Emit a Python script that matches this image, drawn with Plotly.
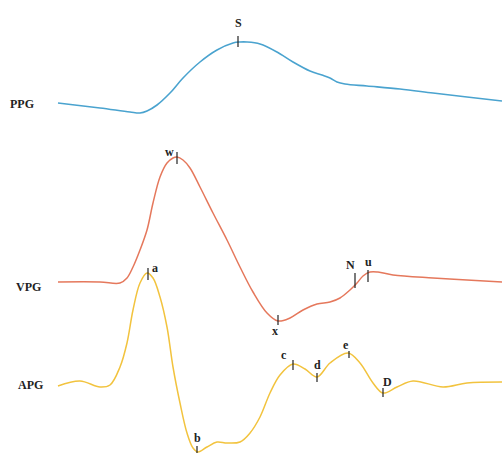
import plotly.graph_objects as go

# PPG curve (x, y in image-space units; y grows downward)
ppg_x = [58, 100, 130, 140, 147, 157, 170, 183, 200, 217, 233, 240, 247, 260, 277, 293, 310, 322, 330, 337, 345, 367, 400, 433, 467, 502]
ppg_y = [103, 108, 112, 113, 111, 105, 93, 78, 62, 50, 43, 42, 42, 44, 52, 62, 71, 75, 78, 82, 84, 86, 89, 93, 97, 101]

# VPG curve
vpg_x = [58, 100, 120, 127, 133, 140, 147, 153, 160, 167, 173, 177, 183, 190, 200, 213, 227, 240, 253, 267, 278, 290, 303, 317, 330, 340, 350, 357, 363, 370, 378, 393, 433, 467, 502]
vpg_y = [282, 282, 283, 278, 267, 250, 230, 203, 177, 163, 158, 157, 160, 168, 187, 213, 240, 267, 292, 313, 321, 318, 310, 304, 302, 298, 290, 283, 276, 272, 272, 275, 278, 280, 282]

# APG curve
apg_x = [58, 80, 100, 110, 120, 127, 133, 140, 147, 153, 160, 167, 173, 180, 187, 193, 198, 207, 217, 227, 240, 250, 260, 270, 280, 293, 305, 317, 330, 348, 360, 373, 383, 397, 413, 443, 467, 502]
apg_y = [386, 381, 387, 385, 367, 343, 310, 283, 273, 278, 297, 327, 367, 403, 433, 448, 452, 447, 442, 443, 442, 433, 417, 393, 375, 364, 369, 377, 363, 353, 363, 383, 393, 387, 381, 387, 383, 382]

# Fiducial markers: label, tick x, tick top, tick bottom, label x, label y
marks = [
    ("S", 238, 36, 47, 238, 23),
    ("w", 177, 152, 164, 169, 152),
    ("N", 355, 273, 288, 350, 265),
    ("u", 368, 270, 282, 368, 262),
    ("x", 278, 315, 325, 275, 331),
    ("a", 148, 268, 280, 155, 268),
    ("b", 197, 446, 453, 197, 438),
    ("c", 293, 360, 370, 284, 355),
    ("d", 317, 373, 382, 317, 365),
    ("e", 349, 351, 358, 346, 345),
    ("D", 383, 388, 397, 387, 382),
]

row_labels = ["PPG", "VPG", "APG"]
row_label_x = [22, 28, 30]
row_label_y = [104, 287, 385]

fig = go.Figure()
fig.add_trace(go.Scatter(x=ppg_x, y=ppg_y, mode="lines",
                         line=dict(color="#4aa3cf", width=1.6, shape="spline", smoothing=1.0)))
fig.add_trace(go.Scatter(x=vpg_x, y=vpg_y, mode="lines",
                         line=dict(color="#e5785c", width=1.5, shape="spline", smoothing=1.0)))
fig.add_trace(go.Scatter(x=apg_x, y=apg_y, mode="lines",
                         line=dict(color="#f2c33e", width=1.5, shape="spline", smoothing=1.0)))

for lab, tx, t0, t1, lx, ly in marks:
    fig.add_shape(type="line", x0=tx, x1=tx, y0=t0, y1=t1,
                  line=dict(color="#222222", width=1.2))
    fig.add_annotation(x=lx, y=ly, text="<b>" + lab + "</b>", showarrow=False,
                       font=dict(family="Liberation Serif", size=12, color="#222222"))

for lab, lx, ly in zip(row_labels, row_label_x, row_label_y):
    fig.add_annotation(x=lx, y=ly, text="<b>" + lab + "</b>", showarrow=False,
                       font=dict(family="Liberation Serif", size=12, color="#222222"))

fig.update_layout(
    width=502, height=453,
    margin=dict(l=0, r=0, t=0, b=0),
    paper_bgcolor="white", plot_bgcolor="white",
    showlegend=False,
    xaxis=dict(range=[0, 502], visible=False, fixedrange=True),
    yaxis=dict(range=[453, 0], visible=False, fixedrange=True),
)

fig.write_html("out.html", config={"displayModeBar": False},
               post_script="document.body.style.margin='0';document.body.style.overflow='hidden';")
